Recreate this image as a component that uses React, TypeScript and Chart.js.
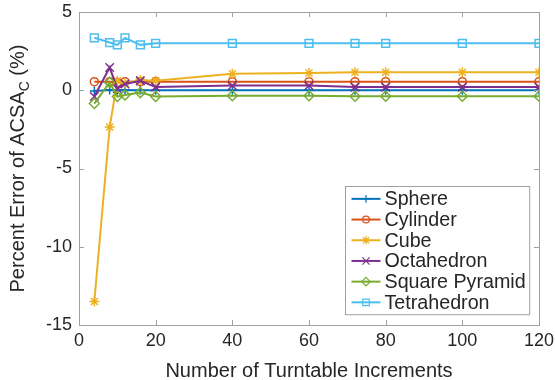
import React, { useEffect, useRef } from "react";
import { Chart, registerables } from "chart.js";
import { drawPoint } from "chart.js/helpers";

Chart.register(...registerables);

const increments = [4, 8, 10, 12, 16, 20, 40, 60, 72, 80, 100, 120];
const sphere = [-0.05, 0.02, 0.0, 0.02, 0.0, 0.0, 0.0, 0.0, 0.0, 0.0, 0.0, 0.0];
const cylinder = [0.55, 0.55, 0.5, 0.55, 0.55, 0.55, 0.55, 0.55, 0.55, 0.55, 0.55, 0.55];
const cube = [-13.5, -2.35, 0.6, 0.45, 0.65, 0.6, 1.05, 1.1, 1.15, 1.15, 1.15, 1.15];
const octahedron = [-0.4, 1.45, 0.1, 0.4, 0.6, 0.2, 0.3, 0.3, 0.2, 0.2, 0.2, 0.2];
const squarePyramid = [-0.85, 0.5, -0.4, -0.3, -0.15, -0.4, -0.35, -0.35, -0.38, -0.38, -0.38, -0.38];
const tetrahedron = [3.35, 3.05, 2.9, 3.35, 2.9, 3.0, 3.0, 3.0, 3.0, 3.0, 3.0, 3.0];

const seriesNames = ["Sphere", "Cylinder", "Cube", "Octahedron", "Square Pyramid", "Tetrahedron"];
const xTicks = [0, 20, 40, 60, 80, 100, 120];
const yTicks = [-15, -10, -5, 0, 5];
const xTitle = "Number of Turntable Increments";
const yTitleMain = "Percent Error of ACSA";
const yTitleSub = "C";
const yTitleEnd = " (%)";

const FONT = "'Liberation Sans', Arial, Helvetica, sans-serif";
const TEXT = "#262626";
const AXIS = "#a0a0a0";

const colors = ["#0072BD", "#D95319", "#EDB120", "#7E2F8E", "#77AC30", "#4DBEEE"];
const styles = ["cross", "circle", "star", "crossRot", "rectRot", "rect"];
const radii = [4.5, 4, 5, 6, 5, 5.5];

const decorPlugin = {
  id: "decor",
  afterDraw(chart: any) {
    const ctx = chart.ctx;
    const ca = chart.chartArea;
    const xs = chart.scales.x;
    const ys = chart.scales.y;
    ctx.save();
    // box
    ctx.strokeStyle = AXIS;
    ctx.lineWidth = 1;
    ctx.strokeRect(Math.round(ca.left) + 0.5, Math.round(ca.top) + 0.5, Math.round(ca.right - ca.left), Math.round(ca.bottom - ca.top));
    // inward ticks
    const tl = 5;
    ctx.beginPath();
    xTicks.forEach((v) => {
      const px = Math.round(xs.getPixelForValue(v)) + 0.5;
      ctx.moveTo(px, ca.bottom);
      ctx.lineTo(px, ca.bottom - tl);
      ctx.moveTo(px, ca.top);
      ctx.lineTo(px, ca.top + tl);
    });
    yTicks.forEach((v) => {
      const py = Math.round(ys.getPixelForValue(v)) + 0.5;
      ctx.moveTo(ca.left, py);
      ctx.lineTo(ca.left + tl, py);
      ctx.moveTo(ca.right, py);
      ctx.lineTo(ca.right - tl, py);
    });
    ctx.stroke();

    // x title
    ctx.fillStyle = TEXT;
    ctx.font = `20px ${FONT}`;
    ctx.textAlign = "center";
    ctx.textBaseline = "alphabetic";
    ctx.fillText(xTitle, (ca.left + ca.right) / 2, 377);

    // y title with subscript
    ctx.save();
    const cy = (ca.top + ca.bottom) / 2;
    ctx.translate(24, cy);
    ctx.rotate(-Math.PI / 2);
    const mainFont = `20px ${FONT}`;
    const subFont = `14px ${FONT}`;
    ctx.font = mainFont;
    const w1 = ctx.measureText(yTitleMain).width;
    const w3 = ctx.measureText(yTitleEnd).width;
    ctx.font = subFont;
    const w2 = ctx.measureText(yTitleSub).width;
    let x0 = -(w1 + w2 + w3) / 2;
    ctx.textAlign = "left";
    ctx.font = mainFont;
    ctx.fillText(yTitleMain, x0, 0);
    x0 += w1;
    ctx.font = subFont;
    ctx.fillText(yTitleSub, x0, 5);
    x0 += w2;
    ctx.font = mainFont;
    ctx.fillText(yTitleEnd, x0, 0);
    ctx.restore();

    // legend
    const lfont = `19.7px ${FONT}`;
    ctx.font = lfont;
    const ds = chart.data.datasets;
    let maxW = 0;
    ds.forEach((d: any) => {
      maxW = Math.max(maxW, ctx.measureText(d.label).width);
    });
    const rowH = 20.7;
    const padTop = 1;
    const lineLen = 29;
    const boxW = 6 + lineLen + 4 + maxW + 4;
    const boxH = ds.length * rowH + padTop + 3;
    const bx = Math.round(ca.right - 10 - boxW) + 0.5;
    const by = Math.round(ca.bottom - 11 - boxH) + 0.5;
    ctx.fillStyle = "#ffffff";
    ctx.fillRect(bx, by, boxW, boxH);
    ctx.strokeStyle = AXIS;
    ctx.lineWidth = 1;
    ctx.strokeRect(bx, by, boxW, boxH);
    ds.forEach((d: any, i: number) => {
      const ry = by + padTop + rowH * (i + 0.5) + 1;
      const lx = bx + 6;
      ctx.strokeStyle = d.borderColor;
      ctx.lineWidth = 2;
      ctx.beginPath();
      ctx.moveTo(lx, ry);
      ctx.lineTo(lx + lineLen, ry);
      ctx.stroke();
      ctx.lineWidth = 1.2;
      ctx.fillStyle = "rgba(0,0,0,0)";
      drawPoint(ctx, { pointStyle: d.pointStyle, radius: d.pointRadius * 0.85, rotation: 0, borderWidth: 1.2 }, lx + lineLen / 2, ry);
      ctx.fillStyle = TEXT;
      ctx.font = lfont;
      ctx.textAlign = "left";
      ctx.textBaseline = "middle";
      ctx.fillText(d.label, lx + lineLen + 4, ry + 1);
    });
    ctx.restore();
  },
};

export default function App() {
  const ref = useRef<HTMLCanvasElement>(null);
  useEffect(() => {
    document.body.style.margin = "0";
    const allSeries = [sphere, cylinder, cube, octahedron, squarePyramid, tetrahedron];
    const datasets = allSeries.map((vals, i) => ({
      label: seriesNames[i],
      data: increments.map((x, j) => ({ x, y: vals[j] })),
      borderColor: colors[i],
      backgroundColor: "rgba(0,0,0,0)",
      pointBackgroundColor: "rgba(0,0,0,0)",
      pointBorderColor: colors[i],
      pointStyle: styles[i],
      pointRadius: radii[i],
      pointBorderWidth: 1.5,
      borderWidth: 2,
      tension: 0,
      order: 6 - i,
    }));
    const chart = new Chart(ref.current as HTMLCanvasElement, {
      type: "line",
      data: { datasets },
      options: {
        animation: false,
        responsive: false,
        layout: { padding: { top: 12, right: 16, left: 0, bottom: 0 } },
        plugins: { legend: { display: false }, tooltip: { enabled: false } },
        scales: {
          x: {
            type: "linear",
            min: 0,
            max: 120,
            afterFit: (s: any) => {
              s.height = 55;
              s.paddingLeft = 0;
              s.paddingRight = 0;
            },
            afterBuildTicks: (s: any) => {
              s.ticks = xTicks.map((v) => ({ value: v }));
            },
            grid: { display: false, drawTicks: false },
            border: { display: false },
            ticks: { color: TEXT, font: { family: FONT, size: 18 }, padding: 5, maxRotation: 0, autoSkip: false },
          },
          y: {
            type: "linear",
            min: -15,
            max: 5,
            afterFit: (s: any) => {
              s.width = 79;
              s.paddingTop = 0;
              s.paddingBottom = 0;
            },
            afterBuildTicks: (s: any) => {
              s.ticks = yTicks.map((v) => ({ value: v }));
            },
            grid: { display: false, drawTicks: false },
            border: { display: false },
            ticks: { color: TEXT, font: { family: FONT, size: 18 }, padding: 7, callback: (v: any) => String(v) },
          },
        },
      } as any,
      plugins: [decorPlugin],
    });
    return () => chart.destroy();
  }, []);
  return <canvas ref={ref} width={555} height={380} style={{ display: "block" }} />;
}
